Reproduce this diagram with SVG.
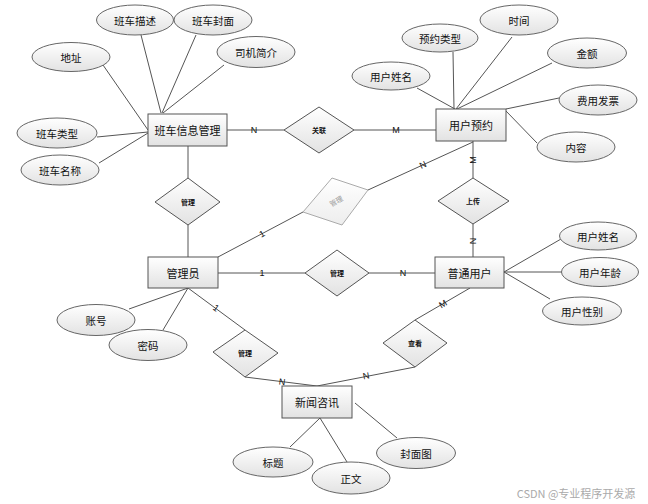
<svg xmlns="http://www.w3.org/2000/svg" width="648" height="504" viewBox="0 0 648 504">
<defs>
<linearGradient id="g" x1="0" y1="0" x2="0" y2="1"><stop offset="0" stop-color="#ffffff"/><stop offset="1" stop-color="#e2e2e2"/></linearGradient>
<linearGradient id="gg" x1="0" y1="0" x2="0" y2="1"><stop offset="0" stop-color="#ffffff"/><stop offset="1" stop-color="#ededed"/></linearGradient>
</defs>
<style>
text{font-family:"Noto Sans CJK SC","Liberation Sans",sans-serif;fill:#111;text-anchor:middle;dominant-baseline:central}
.ent rect{fill:url(#g);stroke:#555;stroke-width:1}
.ent text{font-size:11px}
.att ellipse{fill:url(#g);stroke:#666;stroke-width:1}
.att text{font-size:10.5px}
.rel polygon{fill:url(#g);stroke:#555;stroke-width:1}
.rel text{font-size:7px;font-weight:bold}
#connectors line{stroke:#555;stroke-width:1}
.lbl{font-family:"Liberation Sans",sans-serif;font-size:9px}
</style>
<rect width="648" height="504" fill="#fff"/>
<g id="connectors">
<line x1="141" y1="35" x2="161" y2="113"/>
<line x1="196" y1="35" x2="162" y2="113"/>
<line x1="224" y1="65" x2="163" y2="113"/>
<line x1="103" y1="65" x2="148" y2="130"/>
<line x1="97" y1="137" x2="148" y2="132"/>
<line x1="99" y1="163" x2="148" y2="133"/>
<line x1="227" y1="130" x2="284" y2="130"/>
<line x1="354" y1="130" x2="436" y2="130"/>
<line x1="417" y1="88" x2="455" y2="109"/>
<line x1="453" y1="52" x2="454" y2="109"/>
<line x1="512" y1="37" x2="456" y2="109"/>
<line x1="552" y1="63" x2="457" y2="109"/>
<line x1="559" y1="98" x2="506" y2="109"/>
<line x1="537" y1="143" x2="506" y2="111"/>
<line x1="473" y1="141" x2="473" y2="178"/>
<line x1="473" y1="224" x2="473" y2="257"/>
<line x1="473" y1="142" x2="368" y2="190"/>
<line x1="303" y1="212" x2="218" y2="257"/>
<line x1="188" y1="146" x2="188" y2="178"/>
<line x1="188" y1="225" x2="188" y2="257"/>
<line x1="218" y1="273" x2="305" y2="273"/>
<line x1="369" y1="273" x2="435" y2="273"/>
<line x1="504" y1="272" x2="561" y2="239"/>
<line x1="504" y1="272" x2="562" y2="272"/>
<line x1="504" y1="272" x2="550" y2="299"/>
<line x1="470" y1="288" x2="415" y2="320"/>
<line x1="415" y1="367" x2="317" y2="386"/>
<line x1="245" y1="377" x2="317" y2="386"/>
<line x1="188" y1="288" x2="245" y2="330"/>
<line x1="188" y1="288" x2="129" y2="309"/>
<line x1="188" y1="288" x2="163" y2="330"/>
<line x1="320" y1="418" x2="290" y2="447"/>
<line x1="320" y1="418" x2="347" y2="462"/>
<line x1="355" y1="403" x2="397" y2="438"/>
<text class="lbl" x="254" y="130">N</text>
<text class="lbl" x="396" y="130">M</text>
<text class="lbl" transform="translate(473 160) rotate(-90)">M</text>
<text class="lbl" transform="translate(473 241) rotate(-90)">N</text>
<text class="lbl" transform="translate(423 165) rotate(-25)">N</text>
<text class="lbl" transform="translate(262 234) rotate(-28)">1</text>
<text class="lbl" x="262" y="273">1</text>
<text class="lbl" x="403" y="273">N</text>
<text class="lbl" transform="translate(443 304) rotate(-30)">M</text>
<text class="lbl" transform="translate(366 376) rotate(-11)">N</text>
<text class="lbl" transform="translate(282 382) rotate(7)">N</text>
<text class="lbl" transform="translate(216 308) rotate(36)">1</text>
</g>
<g id="e-bcxx" class="ent"><rect x="148" y="114" width="79" height="32"/><text x="187.5" y="130">班车信息管理</text></g>
<g id="e-yhyy" class="ent"><rect x="436" y="109" width="70" height="32"/><text x="471" y="125">用户预约</text></g>
<g id="e-gly" class="ent"><rect x="148" y="257" width="70" height="31"/><text x="183" y="272.5">管理员</text></g>
<g id="e-ptyh" class="ent"><rect x="435" y="257" width="69" height="31"/><text x="469.5" y="272.5">普通用户</text></g>
<g id="e-xwzx" class="ent"><rect x="282" y="386" width="70" height="32"/><text x="317" y="402">新闻咨讯</text></g>
<g id="r-gl" class="rel"><polygon points="284,130 319,107 354,130 319,153"/><text x="319" y="130">关联</text></g>
<g id="r-gl1" class="rel"><polygon points="155,202 188,178 220,202 188,225"/><text x="188" y="202">管理</text></g>
<g id="r-gl2"><polygon points="332,178 368,190 342,225 303,212" fill="url(#gg)" stroke="#aaa" stroke-width="1"/><text transform="translate(336 201) rotate(-30)" style="font-size:7px;fill:#999">管理</text></g>
<g id="r-sc" class="rel"><polygon points="438,201 473,178 509,201 473,224"/><text x="473" y="201">上传</text></g>
<g id="r-gl3" class="rel"><polygon points="305,273 337,250 369,273 337,296"/><text x="337" y="273">管理</text></g>
<g id="r-gl4" class="rel"><polygon points="213,352 245,330 278,353 245,377"/><text x="245" y="353">管理</text></g>
<g id="r-ck" class="rel"><polygon points="383,343 415,320 447,343 415,367"/><text x="415" y="343">查看</text></g>
<g id="a-bcms" class="att"><ellipse cx="135" cy="20" rx="38.5" ry="15"/><text x="135" y="20">班车描述</text></g>
<g id="a-bcfm" class="att"><ellipse cx="213" cy="20" rx="39" ry="15"/><text x="213" y="20">班车封面</text></g>
<g id="a-dz" class="att"><ellipse cx="71" cy="57" rx="39" ry="14.5"/><text x="71" y="57">地址</text></g>
<g id="a-sjjj" class="att"><ellipse cx="256" cy="52" rx="39" ry="15.5"/><text x="256" y="52">司机简介</text></g>
<g id="a-bclx" class="att"><ellipse cx="57" cy="133" rx="40" ry="15"/><text x="57" y="133">班车类型</text></g>
<g id="a-bcmc" class="att"><ellipse cx="60" cy="170" rx="39" ry="15"/><text x="60" y="170">班车名称</text></g>
<g id="a-yylx" class="att"><ellipse cx="440" cy="38" rx="38" ry="14"/><text x="440" y="38">预约类型</text></g>
<g id="a-sj" class="att"><ellipse cx="519" cy="20" rx="39" ry="15"/><text x="519" y="20">时间</text></g>
<g id="a-yhxm1" class="att"><ellipse cx="391" cy="76" rx="39" ry="14"/><text x="391" y="76">用户姓名</text></g>
<g id="a-je" class="att"><ellipse cx="587" cy="53" rx="39.5" ry="15"/><text x="587" y="53">金额</text></g>
<g id="a-fyfp" class="att"><ellipse cx="598" cy="100" rx="39" ry="15"/><text x="598" y="100">费用发票</text></g>
<g id="a-nr" class="att"><ellipse cx="576" cy="147" rx="39" ry="15"/><text x="576" y="147">内容</text></g>
<g id="a-yhxm2" class="att"><ellipse cx="598" cy="236" rx="38.5" ry="14"/><text x="598" y="236">用户姓名</text></g>
<g id="a-yhnl" class="att"><ellipse cx="600" cy="272" rx="38.5" ry="14.5"/><text x="600" y="272">用户年龄</text></g>
<g id="a-yhxb" class="att"><ellipse cx="582" cy="311" rx="39.5" ry="14"/><text x="582" y="311">用户性别</text></g>
<g id="a-zh" class="att"><ellipse cx="96" cy="320" rx="39" ry="15.5"/><text x="96" y="320">账号</text></g>
<g id="a-mm" class="att"><ellipse cx="148" cy="345" rx="39" ry="15.5"/><text x="148" y="345">密码</text></g>
<g id="a-bt" class="att"><ellipse cx="273" cy="462" rx="40" ry="15"/><text x="273" y="462">标题</text></g>
<g id="a-zw" class="att"><ellipse cx="351" cy="478" rx="39" ry="16"/><text x="351" y="478">正文</text></g>
<g id="a-fmt" class="att"><ellipse cx="416" cy="453" rx="39.5" ry="15.5"/><text x="416" y="453">封面图</text></g>
<text x="576" y="493" style="font-size:11px;fill:#aaa">CSDN @专业程序开发源</text>
</svg>
